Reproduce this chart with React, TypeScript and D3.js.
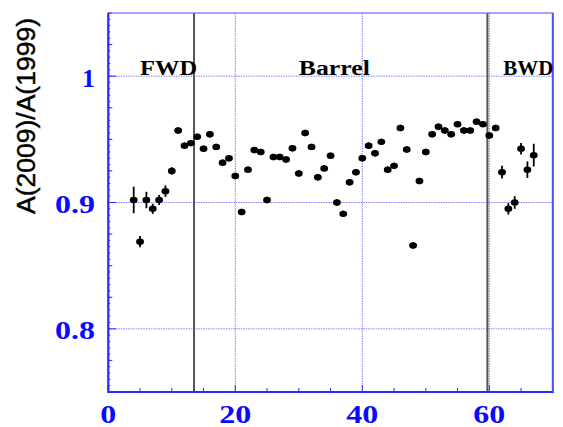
import React from 'react';
import * as d3 from 'd3';

// channel number, ratio A(2009)/A(1999) and its error
const channels = [
  4, 5, 6, 7, 8, 9, 10, 11, 12, 13, 14, 15, 16, 17, 18, 19, 20, 21, 22, 23, 24, 25,
  26, 27, 28, 29, 30, 31, 32, 33, 34, 35, 36, 37, 38, 39, 40, 41, 42, 43, 44, 45,
  46, 47, 48, 49, 50, 51, 52, 53, 54, 55, 56, 57, 58, 59, 60, 61, 62, 63, 64, 65,
  66, 67,
];
const ratios = [
  0.902, 0.869, 0.902, 0.895, 0.902, 0.909, 0.925, 0.957, 0.945, 0.947, 0.952, 0.9425,
  0.954, 0.944, 0.9315, 0.935, 0.921, 0.8925, 0.926, 0.9415, 0.94, 0.902, 0.936, 0.936,
  0.934, 0.943, 0.923, 0.955, 0.944, 0.92, 0.927, 0.937, 0.9, 0.891, 0.916, 0.924,
  0.935, 0.945, 0.939, 0.948, 0.926, 0.929, 0.959, 0.942, 0.866, 0.917, 0.94, 0.954,
  0.96, 0.957, 0.954, 0.962, 0.957, 0.957, 0.964, 0.962, 0.953, 0.959, 0.924, 0.895,
  0.9, 0.9425, 0.926, 0.9375,
];
const errors = [
  0.0105, 0.0045, 0.0065, 0.004, 0.004, 0.0045, 0.003, 0.0025, 0.0025, 0.0025, 0.0025,
  0.0025, 0.0025, 0.0025, 0.0025, 0.0025, 0.0025, 0.0025, 0.0025, 0.0025, 0.0025, 0.0025,
  0.0025, 0.0025, 0.0025, 0.0025, 0.0025, 0.0025, 0.0025, 0.0025, 0.0025, 0.0025, 0.0025,
  0.0025, 0.0025, 0.0025, 0.0025, 0.0025, 0.0025, 0.0025, 0.0025, 0.0025, 0.0025, 0.0025,
  0.0025, 0.0025, 0.0025, 0.0025, 0.0025, 0.0025, 0.0025, 0.0025, 0.0025, 0.0025, 0.0025,
  0.0025, 0.0025, 0.0025, 0.005, 0.0045, 0.005, 0.0045, 0.0065, 0.009,
];

const xTickLabels = [0, 20, 40, 60];
const yTickLabels = [0.8, 0.9, 1];
const boundaries = [13.5, 59.7];
const regions = [
  { name: 'FWD', at: 5, len: 57 },
  { name: 'Barrel', at: 30, len: 71 },
  { name: 'BWD', at: 62.2, len: 50 },
];

const width = 563;
const height = 427;
const blue = '#2a2aff';

export default function App() {
  const x = d3.scaleLinear().domain([0, 70]).range([108.3, 552.8]);
  const y = d3.scaleLinear().domain([0.75, 1.05]).range([392, 13]);
  const [x0, x1] = x.range();
  const [yb, yt] = y.range();

  const xMinor = d3.range(0, 71, 5);
  const yFine = d3.range(0.75, 1.0501, 0.005);
  const yMinor = d3.range(0.75, 1.0501, 0.025);

  const pts = channels.map((c, i) => ({ c, v: ratios[i], e: errors[i] }));

  return (
    <svg
      width={width}
      height={height}
      style={{ position: 'absolute', left: 0, top: 0, background: '#fff' }}
    >
      {/* grid */}
      <g stroke="#7f7fff" strokeWidth={1} strokeDasharray="1.5,1">
        {xTickLabels.slice(1).map((t) => (
          <line key={'gx' + t} x1={x(t)} x2={x(t)} y1={yt} y2={yb} />
        ))}
        {yTickLabels.map((t) => (
          <line key={'gy' + t} x1={x0} x2={x1} y1={y(t)} y2={y(t)} />
        ))}
      </g>

      {/* detector region boundaries */}
      {boundaries.map((b) => (
        <line key={b} x1={x(b)} x2={x(b)} y1={yt} y2={yb} stroke="#555" strokeWidth={2} />
      ))}

      {/* ticks */}
      <g stroke={blue} strokeWidth={1}>
        {xMinor.map((t) => (
          <line key={'tx' + t} x1={x(t)} x2={x(t)} y1={yb} y2={yb - (t % 20 === 0 ? 7 : 4)} />
        ))}
        {yFine.map((t, i) => (
          <line key={'tf' + i} x1={x0} x2={x0 + 2} y1={y(t)} y2={y(t)} />
        ))}
        {yMinor.map((t, i) => (
          <line
            key={'tm' + i}
            x1={x0}
            x2={x0 + (i % 4 === 2 ? 8 : 4)}
            y1={y(t)}
            y2={y(t)}
          />
        ))}
      </g>

      {/* frame */}
      <rect x={x0} y={yt} width={x1 - x0} height={yb - yt} fill="none" stroke="#6a6aff" strokeWidth={1.2} />
      <line x1={x0} x2={x0} y1={yt} y2={yb + 1} stroke={blue} strokeWidth={2.2} />
      <line x1={x0} x2={x1 + 1} y1={yb} y2={yb} stroke={blue} strokeWidth={2.2} />
      <line x1={x1} x2={x1} y1={yt} y2={yb} stroke="#5050ff" strokeWidth={2} />

      {/* error bars and markers */}
      <g fill="#000" stroke="#000">
        {pts.map((p) => (
          <g key={p.c}>
            <line x1={x(p.c)} x2={x(p.c)} y1={y(p.v - p.e)} y2={y(p.v + p.e)} strokeWidth={1.8} />
            <ellipse cx={x(p.c)} cy={y(p.v)} rx={3.9} ry={3.2} stroke="none" />
          </g>
        ))}
      </g>

      {/* region labels */}
      {regions.map((r) => (
        <text
          key={r.name}
          x={x(r.at)}
          y={y(1) - 1}
          fontFamily="'Liberation Serif', 'DejaVu Serif', serif"
          fontWeight="bold"
          fontSize={20}
          fill="#000"
          textLength={r.len}
          lengthAdjust="spacingAndGlyphs"
        >
          {r.name}
        </text>
      ))}

      {/* tick labels */}
      <g
        fill="#0a0aff"
        fontFamily="'Liberation Serif', 'DejaVu Serif', serif"
        fontWeight="bold"
        fontSize={25}
      >
        {xTickLabels.map((t) => (
          <text
            key={'lx' + t}
            x={x(t)}
            y={423}
            textAnchor="middle"
            textLength={String(t).length * 16}
            lengthAdjust="spacingAndGlyphs"
          >
            {t}
          </text>
        ))}
        {yTickLabels.map((t) => {
          const s = t === 1 ? '1' : t.toFixed(1);
          return (
            <text
              key={'ly' + t}
              x={95}
              y={y(t) + 10.5}
              textAnchor="end"
              textLength={t === 1 ? 13 : 40}
              lengthAdjust="spacingAndGlyphs"
            >
              {s}
            </text>
          );
        })}
      </g>

      {/* y axis title */}
      <text
        transform="translate(35,214) rotate(-90)"
        fontFamily="'Liberation Sans', Arial, sans-serif"
        fontSize={26}
        fill="#000"
        stroke="#000"
        strokeWidth={0.4}
        textLength={196}
        lengthAdjust="spacingAndGlyphs"
      >
        A(2009)/A(1999)
      </text>
    </svg>
  );
}
